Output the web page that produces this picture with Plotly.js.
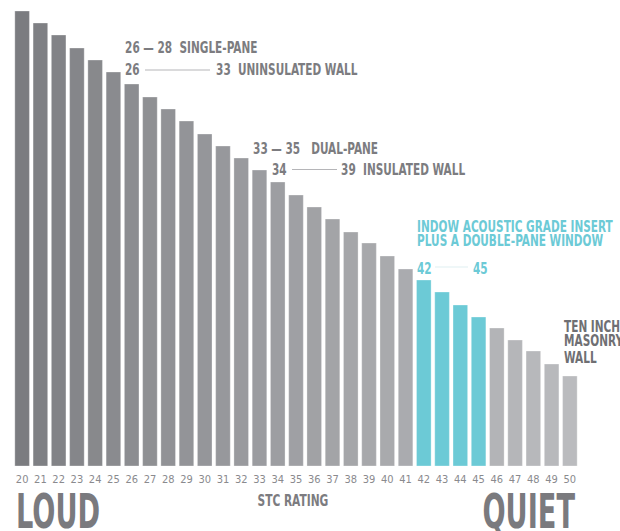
<!DOCTYPE html>
<html>
<head>
<meta charset="utf-8">
<script src="https://cdn.plot.ly/plotly-3.0.1.min.js"></script>
<style>
  html, body { margin: 0; padding: 0; background: #ffffff; }
  #chart { width: 620px; height: 531px; }
  .annotation-text { transform-box: fill-box; }
</style>
</head>
<body>
<div id="chart"></div>
<script>
// ---- data ----
const stcRatings = ["20","21","22","23","24","25","26","27","28","29","30","31","32","33","34","35","36","37","38","39","40","41","42","43","44","45","46","47","48","49","50"];
const barHeights = [455,443,431,418,406,394,382,369,357,345,332,320,308,296,284,271,259,247,234,223,210,197,186,174,161,149,138,126,115,102,90];
const indowRatings = ["42","43","44","45"];

// ---- style ----
const FONT = '"DejaVu Sans Condensed", "DejaVu Sans", "Liberation Sans", sans-serif';
const TEAL = '#6ccad6';
function mix(a, b, t) {
  const pa = [parseInt(a.slice(1,3),16), parseInt(a.slice(3,5),16), parseInt(a.slice(5,7),16)];
  const pb = [parseInt(b.slice(1,3),16), parseInt(b.slice(3,5),16), parseInt(b.slice(5,7),16)];
  return 'rgb(' + pa.map((v,i) => Math.round(v + (pb[i]-v)*t)).join(',') + ')';
}
const n = stcRatings.length;
const colors = stcRatings.map((r, i) => {
  if (indowRatings.includes(r)) return TEAL;
  const t = Math.pow(i/(n-1), 0.8);
  return mix('#7b7c80', '#babbbe', t);
});

// pixel helpers (plot area: x 13..579, y 11..466)
const L = 13, R = 579, T = 11, B = 466;
const px = x => (x - L) / (R - L);
const py = y => (B - y) / (B - T);

const GRAY = '#7c7c80';
const squeeze = [];   // horizontal condensing per annotation (font substitute for a condensed face)
const origin = [];
const annotations = [];
function label(text, x, y, opts, sx, org) {
  annotations.push(Object.assign({
    text: text, xref: 'paper', yref: 'paper', x: px(x), y: py(y),
    xanchor: 'left', yanchor: 'middle', showarrow: false, borderpad: 0,
    font: { family: FONT, size: 15, color: GRAY, weight: 'bold' }
  }, opts || {}));
  squeeze.push(sx || 0.78);
  origin.push(org || '0% 50%');
}
function hline(x0, x1, y, color) {
  return { type: 'line', xref: 'paper', yref: 'paper', x0: px(x0), x1: px(x1), y0: py(y), y1: py(y),
           line: { color: color, width: 1 } };
}
const tealFont = { family: FONT, size: 15, color: TEAL, weight: 'bold' };
const darkFont = { family: FONT, size: 15, color: '#6f6f73', weight: 'bold' };
const bigFont = { family: FONT, size: 48, color: '#7a7a7e', weight: 'bold' };

label('26 — 28  SINGLE-PANE', 124, 48);
label('26', 124, 70);
label('33  UNINSULATED WALL', 215, 70);
label('33 — 35   DUAL-PANE', 252, 148.5);
label('34', 271, 169.5);
label('39  INSULATED WALL', 340, 169.5);
label('INDOW ACOUSTIC GRADE INSERT', 416, 226.5, { font: tealFont });
label('PLUS A DOUBLE-PANE WINDOW', 416, 241, { font: tealFont });
label('42', 416, 268.5, { font: tealFont });
label('45', 472, 268.5, { font: tealFont });
label('TEN INCH', 563, 326.5, { font: darkFont });
label('MASONRY', 563, 341, { font: darkFont });
label('WALL', 563, 357.5, { font: darkFont });
label('STC RATING', 293, 500, { xanchor: 'center', font: { family: FONT, size: 16, color: GRAY, weight: 'bold' } }, 0.74, '50% 50%');
label('LOUD', 15, 510.5, { font: bigFont }, 0.63, '0% 50%');
label('QUIET', 576, 510.5, { xanchor: 'right', font: bigFont }, 0.63, '100% 50%');

const trace = {
  type: 'bar',
  x: stcRatings,
  y: barHeights,
  marker: { color: colors, line: { color: 'rgba(255,255,255,0.6)', width: 0.5 } },
  hoverinfo: 'skip'
};

const layout = {
  width: 620, height: 531,
  margin: { l: L, r: 620 - R, t: T, b: 531 - B, pad: 0 },
  paper_bgcolor: '#ffffff', plot_bgcolor: '#ffffff',
  bargap: 0.2,
  showlegend: false,
  xaxis: {
    type: 'category',
    showgrid: false, zeroline: false, showline: false, ticks: '',
    tickfont: { family: FONT, size: 11, color: '#8a8a8e' },
    ticklabelstandoff: 5
  },
  yaxis: {
    range: [0, 455], showgrid: false, zeroline: false, showline: false,
    showticklabels: false, ticks: ''
  },
  annotations: annotations,
  shapes: [
    hline(145, 210, 70, '#b5b5b8'),
    hline(292, 337, 169.5, '#b5b5b8'),
    hline(435, 468, 267, '#dfeff1')
  ]
};

Plotly.newPlot('chart', [trace], layout, { staticPlot: true, displayModeBar: false }).then(gd => {
  gd.querySelectorAll('g.annotation').forEach(g => {
    const i = +g.getAttribute('data-index');
    const t = g.querySelector('.annotation-text');
    if (!t || isNaN(i)) return;
    t.style.transformOrigin = origin[i];
    t.style.transform = 'scaleX(' + squeeze[i] + ')';
  });
});
</script>
</body>
</html>
